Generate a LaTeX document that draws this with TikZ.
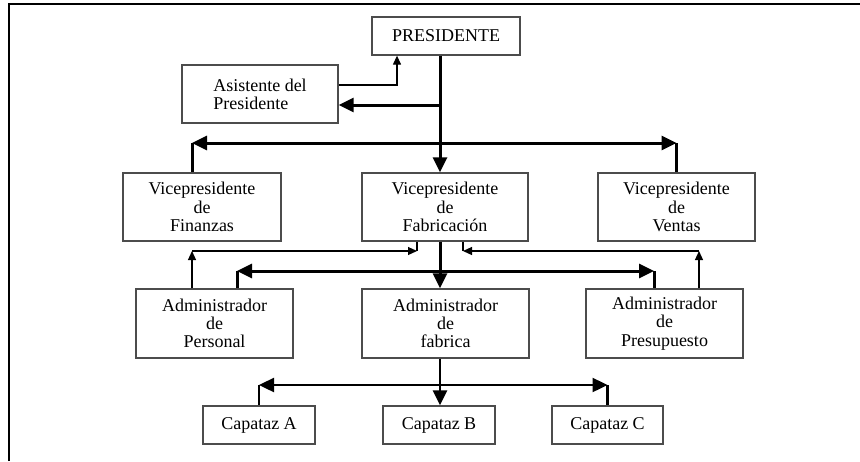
\documentclass[tikz,border=0pt]{standalone}
\usepackage{fontspec}
\setmainfont{Liberation Serif}
\usetikzlibrary{arrows.meta,calc}
\begin{document}
\begin{tikzpicture}[x=1pt,y=-1pt,
  box/.style={draw=black!70,line width=1.3pt,inner sep=0pt,align=center,
    font=\fontsize{18}{18.3}\selectfont},
  thk/.style={line width=3pt},
  thkc/.style={line width=2.4pt},
  thn/.style={line width=1.2pt},
  bigtip/.style={-{Triangle[length=15pt,width=14pt]}},
  smalltip/.style={-{Triangle[length=9pt,width=8pt]}}]
\useasboundingbox (0,0) rectangle (860,461);
\draw[line width=1.5pt] (9,461) -- (9,4) -- (860,4);
% nodes
\node[box,minimum width=148pt,minimum height=38pt] (pres) at (446,36) {PRESIDENTE};
\node[box,minimum width=156pt,minimum height=58pt,align=left] (asis) at (260,94) {Asistente del\\Presidente};
\node[box,minimum width=158pt,minimum height=68pt] (vpfin) at (202,207) {Vicepresidente\\de\\Finanzas};
\node[box,minimum width=166pt,minimum height=68pt] (vpfab) at (445,207) {Vicepresidente\\de\\Fabricación};
\node[box,minimum width=157pt,minimum height=68pt] (vpv) at (676.5,207) {Vicepresidente\\de\\Ventas};
\node[box,minimum width=157pt,minimum height=69pt] (adp) at (214.5,323.5) {Administrador\\de\\Personal};
\node[box,minimum width=167pt,minimum height=69pt] (adf) at (445.5,323.5) {Administrador\\de\\fabrica};
\node[box,minimum width=157pt,minimum height=69pt] (adpr) at (664.5,323.5) {Administrador\\de\\Presupuesto};
\node[box,minimum width=112pt,minimum height=38pt] (capa) at (259,425) {Capataz A};
\node[box,minimum width=112pt,minimum height=38pt] (capb) at (439,425) {Capataz B};
\node[box,minimum width=111pt,minimum height=38pt] (capc) at (607.5,425) {Capataz C};
% helper coordinates
\coordinate (tr) at (440,0);
\coordinate (ya) at (0,105);
\coordinate (yb) at (0,85);
\coordinate (xp) at (397,0);
\coordinate (h1) at (0,143);
\coordinate (xl) at (192,0);
\coordinate (h2) at (0,251);
\coordinate (xfl) at (417,0);
\coordinate (xfr) at (463,0);
\coordinate (xr) at (699,0);
\coordinate (h3) at (0,271);
\coordinate (xal) at (237,0);
\coordinate (xar) at (654,0);
\coordinate (h4) at (0,385);
% president level
\draw[thk,bigtip] (pres.south -| tr) -- (vpfab.north -| tr);
\draw[thk,bigtip] (ya -| tr) -- (ya -| asis.east);
\draw[thn,smalltip] (yb -| asis.east) -| (pres.south -| xp);
% VP level
\draw[thk,bigtip] (h1 -| tr) -- (h1 -| xl);
\draw[thk] (h1 -| xl) -- (vpfin.north -| xl);
\draw[thk,bigtip] (h1 -| tr) -- (h1 -| vpv.north);
\draw[thk] (h1 -| vpv.north) -- (vpv.north);
% thin staff lines
\draw[thn,smalltip] (adp.north -| xl) -- (h2 -| xl);
\draw[thn,smalltip] (h2 -| xl) -- (h2 -| xfl);
\draw[thn] (h2 -| xfl) -- (vpfab.south -| xfl);
\draw[thn,smalltip] (adpr.north -| xr) -- (h2 -| xr);
\draw[thn,smalltip] (h2 -| xr) -- (h2 -| xfr);
\draw[thn] (h2 -| xfr) -- (vpfab.south -| xfr);
% admin level
\draw[thk,bigtip] (vpfab.south -| tr) -- (adf.north -| tr);
\draw[thk,bigtip] (h3 -| tr) -- (h3 -| xal);
\draw[thk] (h3 -| xal) -- (adp.north -| xal);
\draw[thk,bigtip] (h3 -| tr) -- (h3 -| xar);
\draw[thk] (h3 -| xar) -- (adpr.north -| xar);
% capataz level
\draw[thkc,bigtip] (adf.south -| tr) -- (capb.north -| tr);
\draw[thkc,bigtip] (h4 -| tr) -- (h4 -| capa.north);
\draw[thkc] (h4 -| capa.north) -- (capa.north);
\draw[thkc,bigtip] (h4 -| tr) -- (h4 -| capc.north);
\draw[thkc] (h4 -| capc.north) -- (capc.north);
\end{tikzpicture}
\end{document}
